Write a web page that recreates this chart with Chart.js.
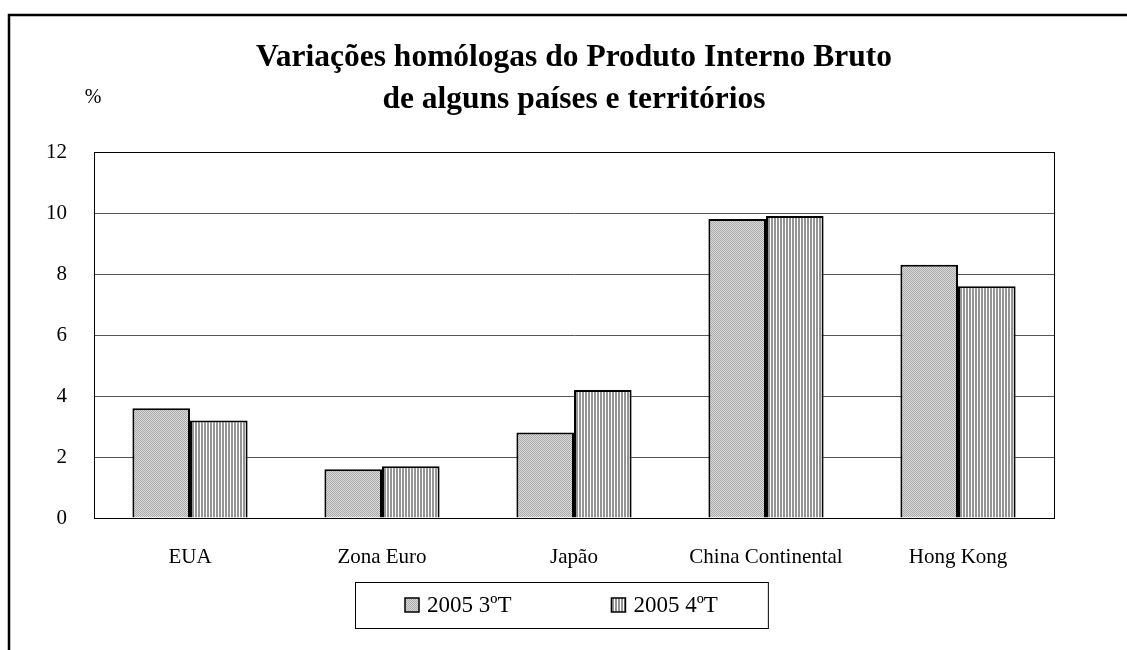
<!DOCTYPE html>
<html>
<head>
<meta charset="utf-8">
<script src="https://cdn.jsdelivr.net/npm/chart.js@4/dist/chart.umd.min.js"></script>
<style>
  html, body { margin: 0; padding: 0; background: #fff; }
  #wrap { width: 1127px; height: 650px; }
</style>
</head>
<body>
<div id="wrap"><canvas id="gdpChart" width="1127" height="650"></canvas></div>
<script>
const categories = ['EUA', 'Zona Euro', 'Japão', 'China Continental', 'Hong Kong'];
const q3Values = [3.6, 1.6, 2.8, 9.8, 8.3];
const q4Values = [3.2, 1.7, 4.2, 9.9, 7.6];
const seriesLabels = ['2005 3ºT', '2005 4ºT'];
const titleLines = ['Variações homólogas do Produto Interno Bruto', 'de alguns países e territórios'];
const yTicks = [0, 2, 4, 6, 8, 10, 12];

const FONT = "'Liberation Serif', 'Times New Roman', serif";

// fill patterns like the old office charts
function makePattern(kind) {
    const c = document.createElement('canvas');
    const ctx = c.getContext('2d');
    if (kind === 'dots') {
        c.width = 2; c.height = 2;
        ctx.fillStyle = '#dadada';
        ctx.fillRect(0, 0, 2, 2);
        ctx.fillStyle = '#aaaaaa';
        ctx.fillRect(0, 0, 1, 1);
        ctx.fillRect(1, 1, 1, 1);
    } else {
        c.width = 3; c.height = 3;
        ctx.fillStyle = '#ffffff';
        ctx.fillRect(0, 0, 3, 3);
        ctx.fillStyle = '#949494';
        ctx.fillRect(0, 0, 2, 3);
    }
    return document.createElement('canvas').getContext('2d').createPattern(c, 'repeat');
}

const patterns = [makePattern('dots'), makePattern('stripes')];

const decorations = {
    id: 'decorations',
    beforeDraw(chart) {
        const ctx = chart.ctx;
        ctx.save();
        ctx.fillStyle = '#fff';
        ctx.fillRect(0, 0, chart.width, chart.height);
        ctx.restore();
    },
    afterDraw(chart) {
        const ctx = chart.ctx;
        const area = chart.chartArea;
        const midX = (area.left + area.right) / 2;
        ctx.save();
        // outer frame (only left and top show in the picture)
        ctx.strokeStyle = '#000';
        ctx.lineWidth = 2.5;
        ctx.beginPath();
        ctx.moveTo(9, chart.height);
        ctx.lineTo(9, 15);
        ctx.lineTo(chart.width, 15);
        ctx.stroke();

        // plot border
        ctx.lineWidth = 1;
        ctx.strokeRect(area.left + 0.5, area.top + 0.5, area.right - area.left, area.bottom - area.top);

        // title, centred over the plot area
        ctx.fillStyle = '#000';
        ctx.textAlign = 'center';
        ctx.textBaseline = 'middle';
        ctx.font = 'bold 31.5px ' + FONT;
        titleLines.forEach((t, i) => ctx.fillText(t, midX, 58 + i * 42));

        // unit label
        ctx.font = '20px ' + FONT;
        ctx.fillText('%', 93, 98);

        // legend
        ctx.font = '23px ' + FONT;
        const box = 14, gap = 8, itemGap = 100;
        const widths = chart.data.datasets.map(ds => box + gap + ctx.measureText(ds.label).width);
        const total = widths.reduce((a, b) => a + b, 0) + itemGap * (widths.length - 1);
        const legTop = 582, legH = 46;
        const legLeft = Math.round(midX - 13 - total / 2 - 50);
        ctx.strokeStyle = '#000';
        ctx.lineWidth = 1;
        ctx.strokeRect(legLeft + 0.5, legTop + 0.5, total + 100, legH);
        let x = legLeft + 50;
        const cy = legTop + legH / 2;
        chart.data.datasets.forEach((ds, i) => {
            ctx.fillStyle = ds.backgroundColor;
            ctx.fillRect(x, cy - box / 2, box, box);
            ctx.lineWidth = 1.5;
            ctx.strokeRect(x, cy - box / 2, box, box);
            ctx.fillStyle = '#000';
            ctx.textAlign = 'left';
            ctx.fillText(ds.label, x + box + gap, cy + 1);
            x += widths[i] + itemGap;
        });
        ctx.restore();
    }
};

new Chart(document.getElementById('gdpChart').getContext('2d'), {
    type: 'bar',
    data: {
        labels: categories,
        datasets: [
            {
                label: seriesLabels[0],
                data: q3Values,
                backgroundColor: patterns[0],
                borderColor: '#000',
                borderWidth: 2,
                categoryPercentage: 0.6,
                barPercentage: 1
            },
            {
                label: seriesLabels[1],
                data: q4Values,
                backgroundColor: patterns[1],
                borderColor: '#000',
                borderWidth: 2,
                categoryPercentage: 0.6,
                barPercentage: 1
            }
        ]
    },
    options: {
        responsive: false,
        animation: false,
        layout: { padding: { top: 152, right: 73, bottom: 0, left: 0 } },
        plugins: {
            legend: { display: false },
            tooltip: { enabled: false },
            title: { display: false }
        },
        scales: {
            x: {
                grid: { display: false, drawTicks: false },
                border: { display: false },
                ticks: {
                    color: '#000',
                    font: { family: FONT, size: 21 },
                    padding: 27
                },
                afterFit(scale) { scale.height = 132; }
            },
            y: {
                min: 0,
                max: 12,
                afterBuildTicks(scale) { scale.ticks = yTicks.map(v => ({ value: v })); },
                grid: { color: '#555', lineWidth: 1, drawTicks: false },
                border: { display: true, color: '#000' },
                ticks: {
                    color: '#000',
                    font: { family: FONT, size: 21 },
                    padding: 27
                },
                afterFit(scale) { scale.width = 94; }
            }
        }
    },
    plugins: [decorations]
});
</script>
</body>
</html>
